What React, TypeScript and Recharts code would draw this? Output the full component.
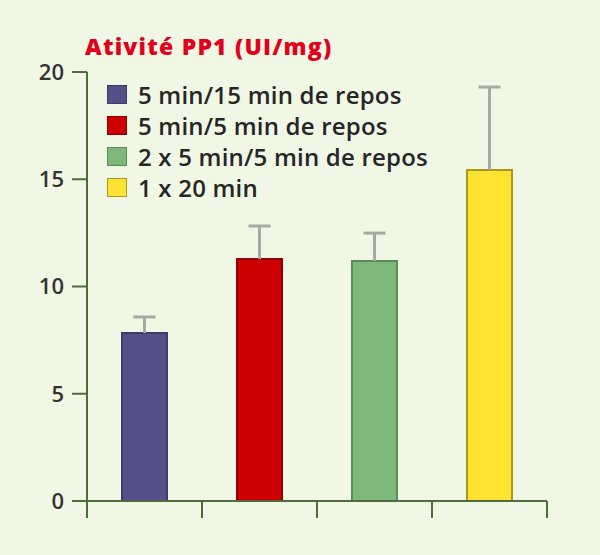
import { BarChart, Bar, XAxis, YAxis, Cell } from 'recharts';

const categories = ['5 min/15 min de repos', '5 min/5 min de repos', '2 x 5 min/5 min de repos', '1 x 20 min'];
const values = [7.83, 11.28, 11.19, 15.43];
const errorsUp = [0.75, 1.54, 1.3, 3.87];
const yTicks = [0, 5, 10, 15, 20];

const fills = ['#554F8A', '#CC0000', '#7DB77A', '#FFE333'];
const strokes = ['#3E3A6A', '#8E0000', '#5A8A58', '#A8981E'];

const axisColor = '#4E6C3C';
const whiskerColor = '#A3ABA3';
const font = '"Open Sans", sans-serif';

const data = categories.map((name, i) => ({ name, value: values[i], err: errorsUp[i] }));

// upper-only error whisker, drawn on the stacked segment the library sizes for us
function Whisker(props: any) {
  const { x, y, width, height } = props;
  const cx = x + width / 2;
  return (
    <g>
      <line x1={cx} x2={cx} y1={y + height} y2={y} stroke={whiskerColor} strokeWidth={3} />
      <line x1={cx - 11} x2={cx + 11} y1={y} y2={y} stroke={whiskerColor} strokeWidth={3} />
    </g>
  );
}

// tick marks sit on the band edges, not under the bars
function EdgeTick(props: any) {
  const { x, y, payload, index, visibleTicksCount } = props;
  const half = payload?.offset ?? 57.5;
  const last = index === (visibleTicksCount ?? categories.length) - 1;
  return (
    <g>
      <line x1={x - half} x2={x - half} y1={y} y2={y + 17} stroke={axisColor} strokeWidth={2} />
      {last && <line x1={x + half} x2={x + half} y1={y} y2={y + 17} stroke={axisColor} strokeWidth={2} />}
    </g>
  );
}

function LegendBox() {
  return (
    <div style={{ position: 'absolute', left: 107, top: 79, fontFamily: font, fontWeight: 600, fontSize: 24, color: '#262626', letterSpacing: 0.2 }}>
      {categories.map((c, i) => (
        <div key={c} style={{ display: 'flex', alignItems: 'center', height: 31 }}>
          <span style={{ width: 20, height: 19, background: fills[i], border: `1.5px solid ${strokes[i]}`, marginRight: 11, display: 'inline-block', boxSizing: 'border-box' }} />
          <span>{c}</span>
        </div>
      ))}
    </div>
  );
}

export default function App() {
  return (
    <div style={{ position: 'absolute', left: 0, top: 0, width: 600, height: 555, background: '#F0F7E4' }}>
      <div style={{ position: 'absolute', left: 85, top: 30, fontFamily: font, fontWeight: 800, fontSize: 23, letterSpacing: 1.2, color: '#E2001A' }}>
        Ativité PP1 (UI/mg)
      </div>
      <BarChart width={600} height={555} data={data} margin={{ top: 72, right: 53, bottom: 34, left: 0 }}>
        <XAxis
          dataKey="name"
          interval={0}
          tickLine={false}
          tickSize={0}
          tickMargin={0}
          tick={<EdgeTick />}
          height={20}
          stroke={axisColor}
          strokeWidth={2}
        />
        <YAxis
          domain={[0, 20]}
          ticks={yTicks}
          width={87}
          tickSize={15}
          tickMargin={8}
          stroke={axisColor}
          strokeWidth={2}
          tick={{ fill: '#333', fontSize: 22, fontFamily: font, fontWeight: 600 }}
        />
        <Bar dataKey="value" stackId="s" barSize={45} strokeWidth={2} isAnimationActive={false}>
          {data.map((d, i) => (
            <Cell key={d.name} fill={fills[i]} stroke={strokes[i]} />
          ))}
        </Bar>
        <Bar dataKey="err" stackId="s" barSize={45} shape={<Whisker />} isAnimationActive={false} />
      </BarChart>
      <LegendBox />
    </div>
  );
}
